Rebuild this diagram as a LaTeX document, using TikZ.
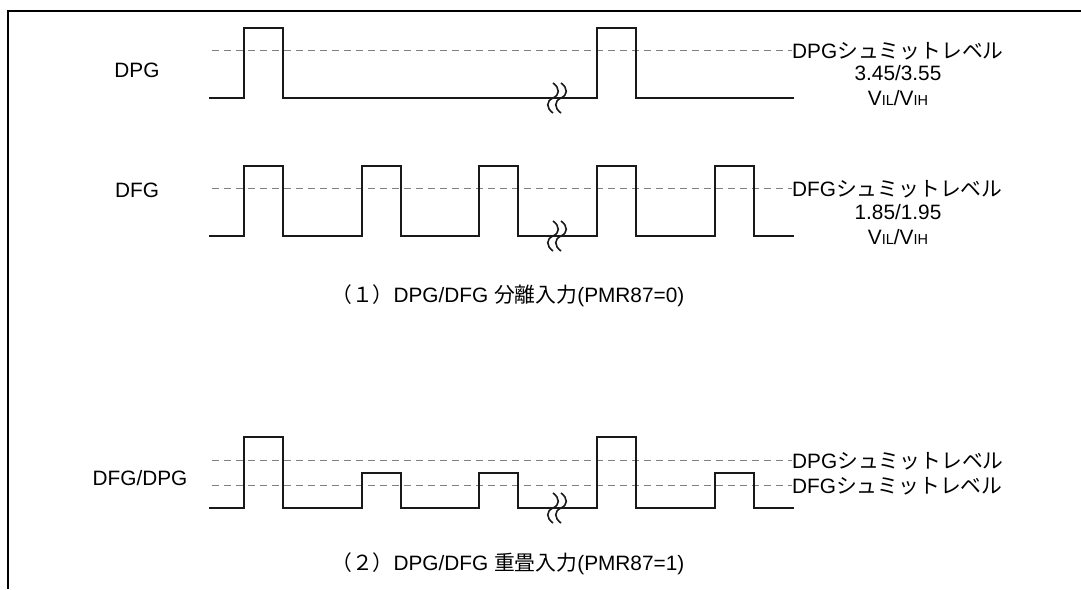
\documentclass[tikz,border=0pt]{standalone}
\usepackage{fontspec}
\setmainfont{Liberation Sans}
\newfontfamily\jp{Noto Sans CJK JP}
\usetikzlibrary{calc, positioning}

\tikzset{
  frame/.style={line width=2.5pt, black},
  sig/.style={line width=2pt, black!90, line join=miter},
  lvl/.style={line width=1.5pt, black!50, dash pattern=on 7pt off 5pt},
  txt/.style={inner sep=0pt, text height=15pt, text depth=0pt, font=\fontsize{20.8}{25}\selectfont},
  brkline/.style={line width=1.6pt, black!90},
}
\newcommand{\vilvih}{V{\fontsize{14.5}{16}\selectfont IL}/V{\fontsize{14.5}{16}\selectfont IH}}
\newcommand{\brk}[2]{%
  \foreach \d in {-4,4} {
    \draw[brkline] ({#1+\d},{#2-15}) .. controls ({#1+\d+7},{#2-10}) and ({#1+\d+7},{#2-3}) .. ({#1+\d},{#2})
      .. controls ({#1+\d-7},{#2+3}) and ({#1+\d-7},{#2+10}) .. ({#1+\d},{#2+15});
  }}

\begin{document}
\begin{tikzpicture}[x=1pt, y=-1pt]
\def\pw{38.5}
\def\xs{209}
\def\xe{794}
\def\xb{557}

\useasboundingbox (0,0) rectangle (1081,589);
\draw[frame] (1081,11) -- (8,11) -- (8,589);

\node[txt] (dpg) at (137,70) {DPG};
\coordinate (pgS) at (212,50.7);
\node[txt, anchor=west] (pglvl) at (792,50.7) {DPG{\jp シュミットレベル}};
\node[txt] (pgval) at (898,73) {3.45/3.55};
\node[txt] (pgvil) at (898,98) {\vilvih};
\draw[lvl] (pgS) -- (pglvl.west);
\draw[sig] (\xs,98) foreach \x in {244,597} {-- (\x,98) -- (\x,28) -- ({\x+\pw},28) -- ({\x+\pw},98)} -- (\xe,98);
\brk{\xb}{98}

\node[txt] (dfg) at (137,190) {DFG};
\coordinate (fgS) at (212,188.5);
\node[txt, anchor=west] (fglvl) at (792,188.5) {DFG{\jp シュミットレベル}};
\node[txt] (fgval) at (898,212) {1.85/1.95};
\node[txt] (fgvil) at (898,236.5) {\vilvih};
\draw[lvl] (fgS) -- (fglvl.west);
\draw[sig] (\xs,236) foreach \x in {244,362,479,597,715} {-- (\x,236) -- (\x,166) -- ({\x+\pw},166) -- ({\x+\pw},236)} -- (\xe,236);
\brk{\xb}{236}

\node[txt, anchor=west] (cap1) at (331,295) {{\jp （１）}DPG/DFG {\jp 分離入力}(PMR87=0)};

\node[txt] (both) at (140,478) {DFG/DPG};
\coordinate (bpS) at (212,460.7);
\coordinate (bfS) at (212,485.7);
\node[txt, anchor=west] (bplvl) at (792,460.7) {DPG{\jp シュミットレベル}};
\node[txt, anchor=west] (bflvl) at (792,485.7) {DFG{\jp シュミットレベル}};
\draw[lvl] (bpS) -- (bplvl.west);
\draw[lvl] (bfS) -- (bflvl.west);
\draw[sig] (\xs,508) -- (244,508) -- (244,437.3) -- ({244+\pw},437.3) -- ({244+\pw},508)
  foreach \x in {362,479} {-- (\x,508) -- (\x,472.7) -- ({\x+\pw},472.7) -- ({\x+\pw},508)}
  -- (597,508) -- (597,437.3) -- ({597+\pw},437.3) -- ({597+\pw},508)
  -- (715,508) -- (715,472.7) -- ({715+\pw},472.7) -- ({715+\pw},508) -- (\xe,508);
\brk{\xb}{508}

\node[txt, anchor=west] (cap2) at (331,563) {{\jp （２）}DPG/DFG {\jp 重畳入力}(PMR87=1)};
\end{tikzpicture}
\end{document}
